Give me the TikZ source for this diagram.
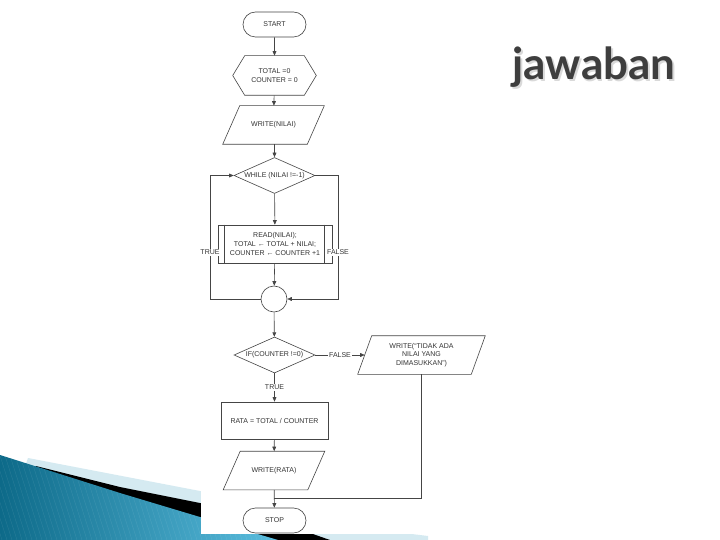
\documentclass[tikz,border=0pt]{standalone}
\usepackage{fontspec}
\setmainfont{Liberation Sans}
\newfontfamily\titlefont{Lato}
\usetikzlibrary{shapes.geometric,shapes.misc,arrows.meta}
\definecolor{linec}{HTML}{454545}
\definecolor{textc}{HTML}{333333}
\definecolor{swdark}{HTML}{0D6A89}
\definecolor{swlite}{HTML}{5BBEDF}
\definecolor{swband}{HTML}{D5EAF1}
\definecolor{titlec}{HTML}{3E3E3E}
\definecolor{shadc}{HTML}{D9D9D9}
\newcommand\paragram[2]{\draw[shp] ([xshift=#2]#1.north west) -- (#1.north east) -- ([xshift=-#2]#1.south east) -- (#1.south west) -- cycle;}
\newcommand\shadowtext[1]{\makebox[0pt][l]{\raisebox{-2pt}{\hspace{2pt}\textcolor{shadc}{#1}}}\textcolor{titlec}{#1}}
\begin{document}
\begin{tikzpicture}[x=1pt,y=-1pt,
  shp/.style={draw=linec, line width=0.6pt},
  fc/.style={shp, font=\fontsize{7}{8.6}\selectfont, text=textc, align=center, inner sep=0pt},
  term/.style={fc, rounded rectangle, minimum width=63, minimum height=25},
  hexbox/.style={fc, draw=none, rectangle, minimum width=83, minimum height=39},
  iobox/.style={fc, draw=none, rectangle, minimum width=101, minimum height=38},
  dec/.style={fc, diamond, aspect=2.25, minimum width=81, minimum height=36},
  procbox/.style={fc, rectangle, minimum width=114, minimum height=38},
  conn/.style={fc, circle, minimum size=26},
  arr/.style={shp, -{Triangle[length=4.5,width=3.8]}},
  lab/.style={font=\fontsize{7}{8}\selectfont, text=textc, fill=white, inner sep=1pt}
]
\useasboundingbox (0,0) rectangle (720,540);
\fill[white] (0,0) rectangle (720,540);
% decorative swoosh
\fill[swband] (28,458) -- (200,491) -- (330,524) -- (428,536) -- (428,540) -- (0,540) -- cycle;
\fill[black] (36,466) -- (120,487) -- (200,503) -- (310,533) -- (330,540) -- (0,540) -- cycle;
\begin{scope}
  \clip (0,455) -- (120,493) -- (200,517) -- (278,540) -- (0,540) -- cycle;
  \shade[left color=swdark, right color=swlite] (0,450) rectangle (280,540);
  \foreach \i in {-60,-55,...,300} \draw[white, opacity=0.10, line width=0.35] (\i,440) -- (\i+32,540);
\end{scope}
% pasted picture area
\fill[white] (201,0) rectangle (495,534);
% title
\node[anchor=base, font=\titlefont\bfseries\fontsize{44}{44}\selectfont, inner sep=0pt] (title) at (594,80) {\shadowtext{jawaban}};
% flowchart nodes
\node[term] (start) at (274.5,24.5) {START};
\node[hexbox] (init) at (274.5,75.5) {TOTAL =0\\COUNTER = 0};
\draw[shp] (init.west) -- ([xshift=12]init.north west) -- ([xshift=-12]init.north east) -- (init.east) -- ([xshift=-12]init.south east) -- ([xshift=12]init.south west) -- cycle;
\node[iobox] (wn) at (273.5,125) {WRITE(NILAI)};
\paragram{wn}{17}
\node[dec] (wh) at (274.5,175.5) {WHILE (NILAI !=-1)};
\node[procbox] (body) at (275,244) {READ(NILAI);\\TOTAL ← TOTAL + NILAI;\\COUNTER ← COUNTER +1};
\draw[shp] ([xshift=7]body.north west) -- ([xshift=7]body.south west);
\draw[shp] ([xshift=-8]body.north east) -- ([xshift=-8]body.south east);
\node[conn] (c) at (274,299) {};
\node[dec] (if) at (274.5,355) {IF(COUNTER !=0)};
\node[iobox, minimum width=127] (wt) at (421.5,355) {WRITE(“TIDAK ADA\\NILAI YANG\\DIMASUKKAN”)};
\paragram{wt}{14}
\node[fc, rectangle, minimum width=107, minimum height=37] (rata) at (274.5,420.5) {RATA = TOTAL / COUNTER};
\node[iobox] (wr) at (274,470.5) {WRITE(RATA)};
\paragram{wr}{17}
\node[term] (stop) at (274.5,520.5) {STOP};
% helper coordinates
\coordinate (lx) at (210,0);
\coordinate (rx) at (338,0);
\coordinate (j) at (274,498);
% connectors
\draw[arr] (start) -- (init);
\draw[arr] (init) -- (wn);
\draw[arr] (wn.south -| wh) -- (wh);
\draw[arr] (wh) -- (body);
\draw[arr] (body) -- (c);
\draw[arr] (c.west) -- (c.west -| lx) -- node[lab, pos=0.38] {TRUE} (wh.west -| lx) -- (wh.west);
\draw[arr] (wh.east) -- (wh.east -| rx) -- node[lab, pos=0.62] {FALSE} (c.east -| rx) -- (c.east);
\draw[arr] (c) -- (if);
\draw[arr] (if.east) -- node[lab] {FALSE} ([xshift=7]wt.west);
\draw[arr] (if) -- node[lab] {TRUE} (rata);
\draw[arr] (rata) -- (wr);
\draw[arr] (wr) -- (stop);
\draw[shp] (wt.south) |- (j);
\end{tikzpicture}
\end{document}
